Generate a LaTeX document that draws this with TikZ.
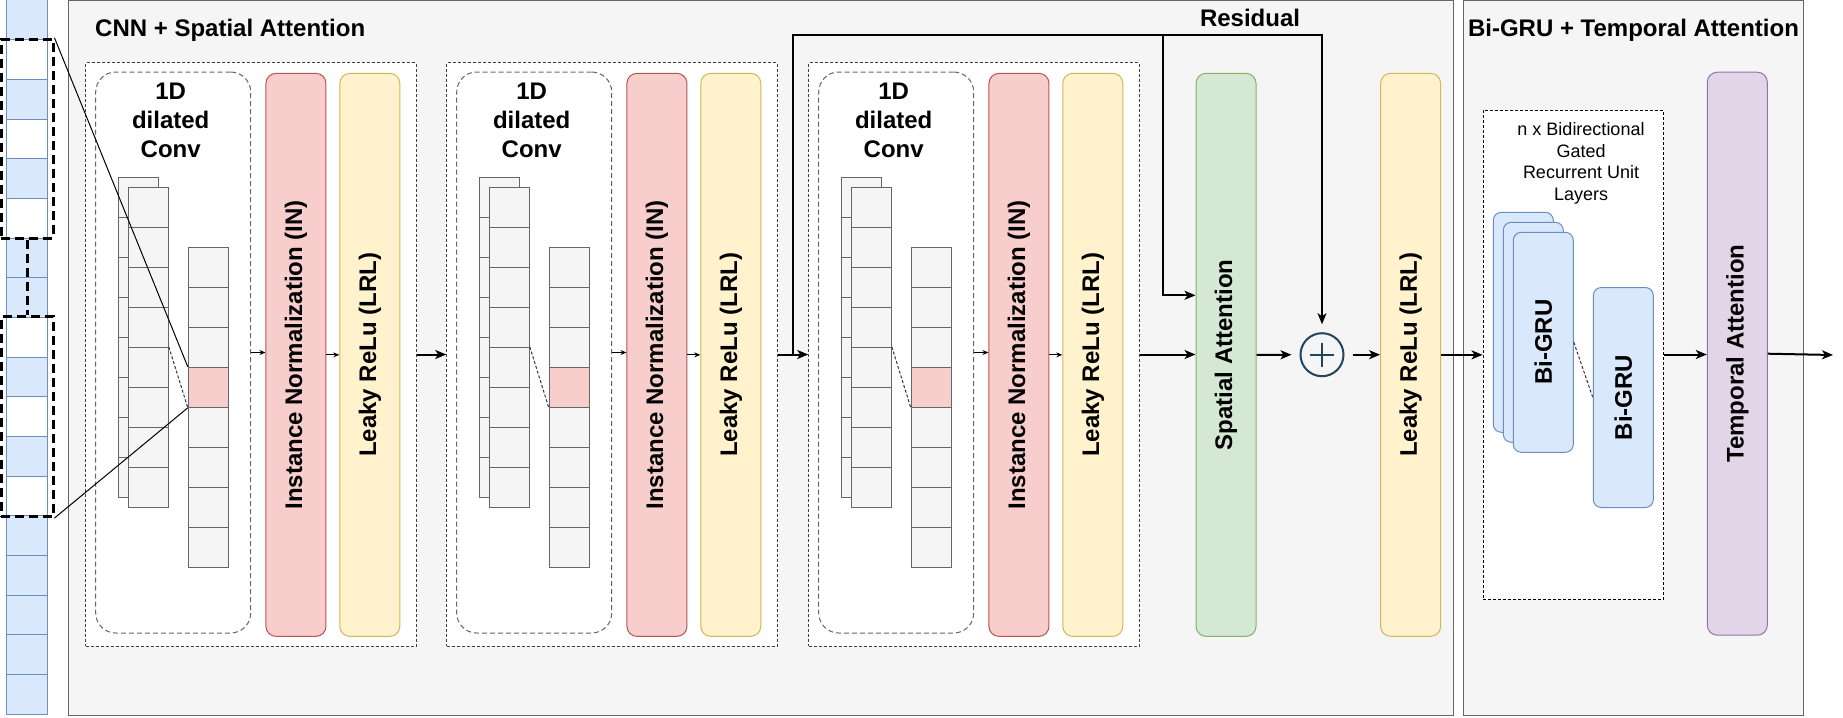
\documentclass[tikz,border=0pt]{standalone}
\usepackage{fontspec}
\setmainfont{Liberation Sans}
\usepackage{xcolor}
\definecolor{panelFill}{HTML}{F5F5F5}
\definecolor{panelLine}{HTML}{666666}
\definecolor{blueFill}{HTML}{DAE8FC}
\definecolor{blueLine}{HTML}{6C8EBF}
\definecolor{redFill}{HTML}{F8CECC}
\definecolor{redLine}{HTML}{B85450}
\definecolor{yellowFill}{HTML}{FFF2CC}
\definecolor{yellowLine}{HTML}{D6B656}
\definecolor{greenFill}{HTML}{D5E8D4}
\definecolor{greenLine}{HTML}{82B366}
\definecolor{purpleFill}{HTML}{E1D5E7}
\definecolor{purpleLine}{HTML}{9673A6}
\definecolor{sumLine}{HTML}{23445D}
\usepackage{tikz}
\usetikzlibrary{arrows.meta,positioning,calc}
\tikzset{
  >={Stealth[length=11pt,width=9pt,inset=3pt]},
  bigfont/.style={font=\fontsize{24}{28.8}\selectfont\bfseries},
  panel/.style={rectangle,draw=panelLine,fill=panelFill,line width=1pt,inner sep=0pt},
  stripcell/.style={rectangle,draw=blueLine,line width=1pt,minimum width=41pt,minimum height=39.67pt,inner sep=0pt},
  selbox/.style={rectangle,draw=black,line width=3pt,dash pattern=on 9pt off 5pt,minimum width=52pt,inner sep=0pt},
  seldash/.style={draw=black,line width=3pt,dash pattern=on 9pt off 5pt},
  blockbox/.style={rectangle,draw=black!75,dash pattern=on 3pt off 2pt,fill=white,line width=1pt,minimum width=330.5pt,minimum height=583pt,inner sep=0pt},
  convbox/.style={rectangle,rounded corners=20pt,draw=panelLine,dash pattern=on 5pt off 3pt,fill=white,line width=1pt,minimum width=155pt,minimum height=561pt,inner sep=0pt},
  fmcell/.style={rectangle,draw=panelLine,line width=1pt,minimum size=40pt,inner sep=0pt},
  layerbox/.style={rectangle,rounded corners=10pt,line width=1pt,minimum width=60pt,minimum height=563pt,inner sep=0pt,bigfont},
  inbox/.style={layerbox,draw=redLine,fill=redFill},
  lrlbox/.style={layerbox,draw=yellowLine,fill=yellowFill},
  spatbox/.style={layerbox,draw=greenLine,fill=greenFill},
  tempbox/.style={layerbox,draw=purpleLine,fill=purpleFill},
  grubox/.style={rectangle,rounded corners=8pt,draw=blueLine,fill=blueFill,line width=1pt,minimum width=60pt,minimum height=220pt,inner sep=0pt,bigfont},
  gruframe/.style={rectangle,draw=black,dash pattern=on 3pt off 2pt,fill=white,line width=1pt,inner sep=0pt},
  sumnode/.style={circle,draw=sumLine,line width=2pt,minimum size=43pt,inner sep=0pt},
  sumsign/.style={draw=sumLine,line width=2pt},
  flowarrow/.style={->,line width=2pt},
  smallarrow/.style={-{Stealth[length=6pt,width=5pt,inset=2pt]},line width=1pt},
  mapline/.style={draw=black,line width=1pt},
  linkdash/.style={draw=black!80,line width=1pt,dash pattern=on 3pt off 2pt},
}

\begin{document}
\begin{tikzpicture}[x=1pt,y=-1pt]
  \useasboundingbox (0,0) rectangle (1843,717);

  \foreach \i/\c in {0/blueFill,1/white,2/blueFill,3/white,4/blueFill,5/white,6/blueFill,7/blueFill,8/white,
                     9/blueFill,10/white,11/blueFill,12/white,13/blueFill,14/blueFill,15/blueFill,16/blueFill,17/blueFill}
    \node[stripcell,fill=\c] (s\i) at (27.2,19.83+39.67*\i) {};
  \node[selbox,minimum height=198.7pt] (sel1) at (27,138.7) {};
  \node[selbox,minimum height=200.5pt] (sel2) at (27,416.3) {};
  \draw[seldash] (sel1.south) -- (sel2.north);

  \node[panel,minimum width=1385.3pt,minimum height=715pt] (cnnpanel) at (760.7,358) {};
  \node[panel,minimum width=340pt,minimum height=715pt] (grupanel) at (1633.3,358) {};
  \node[bigfont,anchor=west,inner sep=0pt] (cnntitle) at (95,29.8) {CNN + Spatial Attention};
  \node[bigfont,inner sep=0pt] (grutitle) at (1633.5,29.8) {Bi-GRU + Temporal Attention};

  \foreach \b/\X in {1/85.7,2/446.7,3/808.7} {
    \node[blockbox] (out\b) at (\X+165.25,354.5) {};
    \node[convbox] (conv\b) at (\X+87.5,352.5) {};
    \node[bigfont,align=center] (ct\b) at (\X+85,120.2) {1D\\dilated\\Conv};
    \foreach \k in {0,...,7}
      \node[fmcell,fill=panelFill] (bs\b-\k) at (\X+52.6,197.3+40*\k) {};
    \foreach \k in {0,...,7}
      \node[fmcell,fill=panelFill] (fs\b-\k) at (\X+62.6,207.3+40*\k) {};
    \foreach \k/\c in {0/panelFill,1/panelFill,2/panelFill,3/redFill,4/panelFill,5/panelFill,6/panelFill,7/panelFill}
      \node[fmcell,fill=\c] (rc\b-\k) at (\X+122.6,267.3+40*\k) {};
    \draw[linkdash] (fs\b-4.north east) -- (rc\b-3.south west);
    \node[inbox] (in\b) at (\X+210.25,354.85) {\rotatebox{90}{Instance Normalization (IN)}};
    \node[lrlbox] (lrl\b) at (\X+284.1,354.85) {\rotatebox{90}{Leaky ReLu (LRL)}};
    \draw[smallarrow] (conv\b.east) -- (conv\b.east -| in\b.west);
    \draw[smallarrow] (in\b.east) -- (in\b.east -| lrl\b.west);
  }
  \draw[flowarrow] (out1) -- (out2);
  \draw[flowarrow] (out2) -- (out3);

  \node[spatbox] (spat) at (1226,354.85) {\rotatebox{90}{Spatial Attention}};
  \node[sumnode] (plus) at (1322,354.7) {};
  \draw[sumsign] ([xshift=-12pt]plus.center) -- ([xshift=12pt]plus.center);
  \draw[sumsign] ([yshift=-12pt]plus.center) -- ([yshift=12pt]plus.center);
  \node[lrlbox] (lrl4) at (1410.6,354.85) {\rotatebox{90}{Leaky ReLu (LRL)}};

  \coordinate (rs) at ($(out2.east)!0.5!(out3.west)$);
  \coordinate (rtop) at (1322,35.3);
  \coordinate (rbr) at (1163.3,35.3);
  \coordinate (rbend) at (1163.3,295.3);
  \node[bigfont,inner sep=0pt] (restitle) at (1250,18.3) {Residual};
  \draw[flowarrow,shorten >=8pt] (rs) |- (rtop) -- (plus.north);
  \draw[flowarrow] (rbr) -- (rbend) -- (rbend -| spat.west);
  \draw[flowarrow] (out3.east) -- (out3.east -| spat.west);
  \draw[flowarrow,shorten >=8pt] (spat.east) -- (plus.west);
  \draw[flowarrow,shorten <=8pt] (plus.east) -- (plus.east -| lrl4.west);

  \node[gruframe,minimum width=180.5pt,minimum height=489pt] (gruf) at (1573.3,354.5) {};
  \node[font=\fontsize{18}{21.6}\selectfont,align=center] (grutxt) at (1581,163.5) {n x Bidirectional\\Gated\\Recurrent Unit\\Layers};
  \node[grubox] (gru1) at (1523.3,322.3) {};
  \node[grubox] (gru2) at (1533.3,332.3) {};
  \node[grubox] (gru3) at (1543.3,342.3) {\rotatebox{90}{Bi-GRU}};
  \node[grubox] (gru4) at (1623.3,397.5) {\rotatebox{90}{Bi-GRU}};
  \draw[linkdash] (gru3.east) -- (gru4.west);
  \node[tempbox] (temp) at (1737.3,353.7) {\rotatebox{90}{Temporal Attention}};
  \coordinate (outp) at (1833,355);
  \draw[flowarrow] (lrl4.east) -- (lrl4.east -| gruf.west);
  \draw[flowarrow] (gruf.east) -- (gruf.east -| temp.west);
  \draw[flowarrow] (temp.east) -- (outp);

  \draw[mapline] (sel1.north east) -- (rc1-3.north west);
  \draw[mapline] (sel2.south east) -- (rc1-3.south west);
\end{tikzpicture}
\end{document}
